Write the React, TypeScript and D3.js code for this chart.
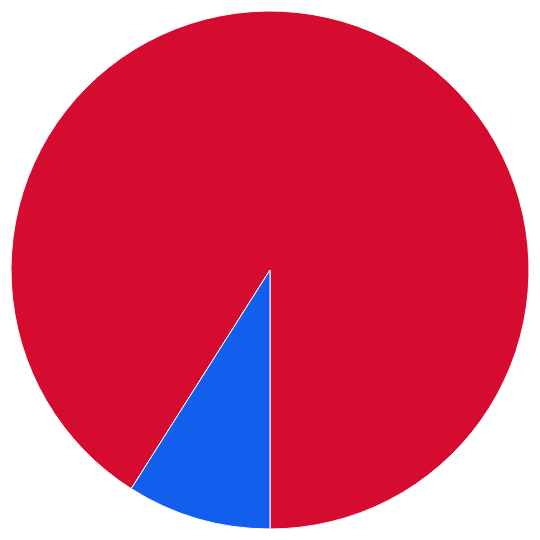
import { useEffect, useRef } from 'react';
import * as d3 from 'd3';

const categories = ['Red', 'Blue'];
const values = [91, 9];
const colours = ['#D50C2F', '#125FEE'];

const width = 540;
const height = 540;

export default function App() {
  const svgRef = useRef<SVGSVGElement>(null);

  useEffect(() => {
    if (!svgRef.current) return;

    const svg = d3.select(svgRef.current);
    svg.selectAll('*').remove();

    const data = categories.map((name, index) => ({
      name,
      value: values[index],
      colour: colours[index],
    }));

    // red runs clockwise from ~212deg round to the bottom, blue fills the gap
    const start = Math.PI * 2 * (values[1] / 100) + Math.PI;
    const pie = d3
      .pie<(typeof data)[number]>()
      .sort(null)
      .value((item) => item.value)
      .startAngle(start)
      .endAngle(start + Math.PI * 2);

    const arc = d3
      .arc<d3.PieArcDatum<(typeof data)[number]>>()
      .innerRadius(0)
      .outerRadius(259);

    svg
      .append('g')
      .attr('transform', `translate(${width / 2},${height / 2})`)
      .selectAll('path')
      .data(pie(data))
      .join('path')
      .attr('d', arc)
      .attr('fill', (item) => item.data.colour)
      .attr('stroke', '#ffffff')
      .attr('stroke-width', 1);
  }, []);

  return (
    <svg
      ref={svgRef}
      width={width}
      height={height}
      viewBox={`0 0 ${width} ${height}`}
      style={{ position: 'fixed', top: 0, left: 0, background: '#ffffff' }}
    />
  );
}
